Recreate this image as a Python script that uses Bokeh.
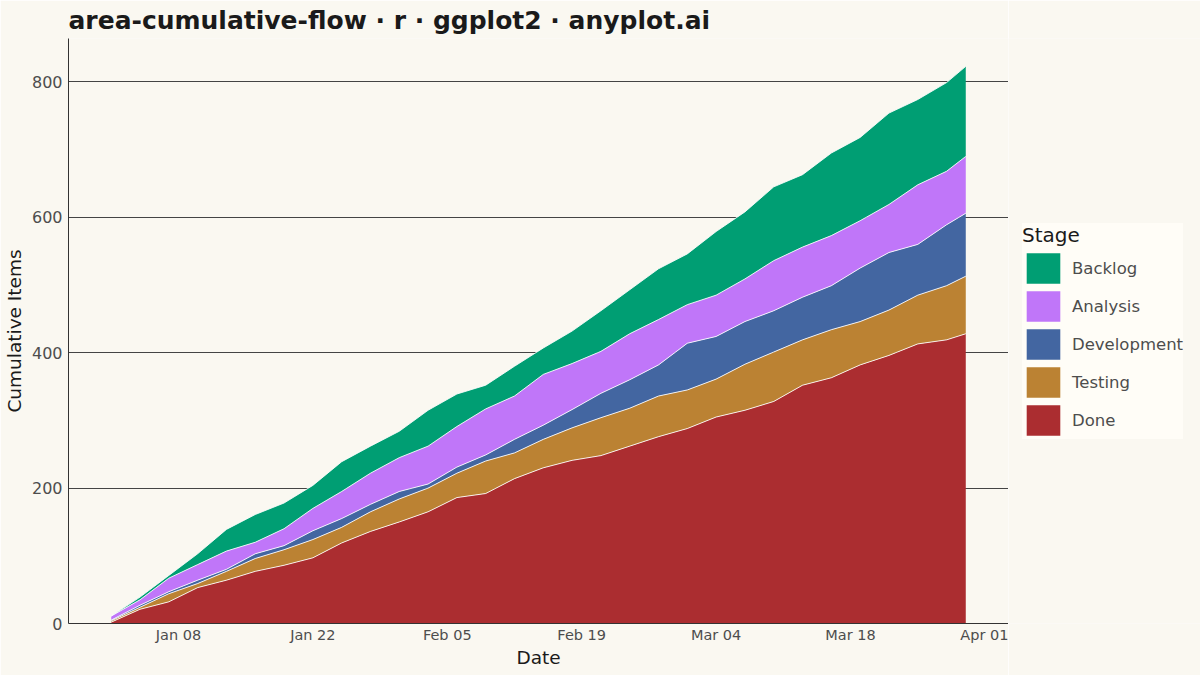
import numpy as np
import pandas as pd
from bokeh.plotting import figure
from bokeh.layouts import row
from bokeh.models import (ColumnDataSource, Range1d, FixedTicker, DatetimeTickFormatter,
                          Legend, LegendItem)
from bokeh.embed import file_html
from bokeh.resources import INLINE

# ---- data ----
dates = ["2024-01-01", "2024-01-04", "2024-01-07", "2024-01-10", "2024-01-13", "2024-01-16",
         "2024-01-19", "2024-01-22", "2024-01-25", "2024-01-28", "2024-01-31", "2024-02-03",
         "2024-02-06", "2024-02-09", "2024-02-12", "2024-02-15", "2024-02-18", "2024-02-21",
         "2024-02-24", "2024-02-27", "2024-03-01", "2024-03-04", "2024-03-07", "2024-03-10",
         "2024-03-13", "2024-03-16", "2024-03-19", "2024-03-22", "2024-03-25", "2024-03-28",
         "2024-03-30"]
done = [2, 21, 32, 53, 64, 77, 86, 97, 119, 136, 150, 165, 186, 192, 214, 230, 241, 248,
        262, 276, 288, 305, 315, 328, 352, 363, 382, 396, 413, 419, 428]
testing = [2, 3, 12, 6, 13, 19, 23, 27, 23, 29, 34, 35, 36, 48, 38, 42, 48, 56, 56, 60,
           57, 56, 68, 73, 67, 71, 64, 67, 72, 80, 85]
development = [1, 3, 3, 5, 3, 7, 6, 13, 13, 11, 11, 6, 9, 9, 20, 21, 27, 36, 42, 46, 69,
               63, 63, 61, 63, 65, 79, 85, 75, 90, 93]
analysis = [6, 8, 20, 23, 27, 17, 25, 33, 40, 46, 50, 56, 60, 68, 64, 75, 68, 62, 68, 67,
            57, 61, 63, 74, 74, 74, 70, 71, 88, 79, 84]
backlog = [0, 4, 4, 16, 32, 41, 38, 34, 44, 40, 39, 53, 48, 35, 44, 39, 48, 60, 65, 75,
           75, 94, 99, 109, 107, 122, 123, 135, 126, 131, 133]

stages = ["Done", "Testing", "Development", "Analysis", "Backlog"]
colors = ["#AB2D30", "#BB8233", "#4366A1", "#C076F9", "#009E73"]
x_ticks = ["2024-01-08", "2024-01-22", "2024-02-05", "2024-02-19", "2024-03-04",
           "2024-03-18", "2024-04-01"]
y_ticks = [0, 200, 400, 600, 800]

BG = "#FAF8F1"
FONT = "DejaVu Sans"

dt = pd.to_datetime(dates)
src = ColumnDataSource(dict(date=dt, Done=done, Testing=testing, Development=development,
                            Analysis=analysis, Backlog=backlog))

pad = (dt[-1] - dt[0]) * 0.05
total = np.array(done) + np.array(testing) + np.array(development) + np.array(analysis) + np.array(backlog)

p = figure(frame_width=940, frame_height=585, x_axis_type="datetime",
           x_range=Range1d(dt[0] - pad, dt[-1] + pad),
           y_range=Range1d(0, float(total.max()) * 1.05),
           output_backend="svg", toolbar_location=None,
           min_border_left=68, min_border_right=0, min_border_top=38, min_border_bottom=52,
           background_fill_color=BG, border_fill_color=BG, outline_line_color=None,
           title="area-cumulative-flow · r · ggplot2 · anyplot.ai")

renderers = p.varea_stack(stackers=stages, x="date", color=colors, source=src)

# white separation lines along each layer top
cum = np.zeros(len(dates))
for s in stages:
    cum = cum + np.array(src.data[s])
    p.line(dt, cum, line_color="white", line_width=1, line_alpha=0.85)

# title
p.title.text_font = FONT
p.title.text_font_size = "25px"
p.title.text_font_style = "bold"
p.title.text_color = "#1A1A1A"
p.title.text_line_height = 1.0
p.title.align = "left"
p.title.standoff = 7

# axes
for ax in (p.xaxis[0], p.yaxis[0]):
    ax.axis_line_color = "#333333"
    ax.axis_line_width = 1
    ax.major_tick_line_color = None
    ax.minor_tick_line_color = None
    ax.major_tick_out = 0
    ax.major_tick_in = 0
    ax.minor_tick_out = 0
    ax.minor_tick_in = 0
    ax.major_label_text_font = FONT
    ax.major_label_text_color = "#4D4D4D"
    ax.axis_label_text_font = FONT
    ax.axis_label_text_font_size = "18.5px"
    ax.axis_label_text_font_style = "normal"
    ax.axis_label_text_color = "#1A1A1A"

p.xaxis.major_label_text_font_size = "14.5px"
p.yaxis.major_label_text_font_size = "16px"
p.xaxis.axis_label = "Date"
p.yaxis.axis_label = "Cumulative Items"
p.xaxis.ticker = FixedTicker(ticks=[pd.Timestamp(t).value // 10**6 for t in x_ticks])
p.xaxis.formatter = DatetimeTickFormatter(days="%b %d", months="%b %d")
p.yaxis.ticker = FixedTicker(ticks=y_ticks)
p.xaxis.major_label_standoff = 3
p.xaxis.axis_label_standoff = 1
p.yaxis.major_label_standoff = 6
p.yaxis.axis_label_standoff = 4

p.xgrid.visible = False
p.ygrid.grid_line_color = "#444444"
p.ygrid.grid_line_width = 1

# ---- legend panel (separate figure to the right) ----
lg = figure(width=192, height=675, x_axis_location=None, y_axis_location=None,
            toolbar_location=None, output_backend="svg", min_border=0,
            background_fill_color=BG, border_fill_color=BG, outline_line_color=None)
lg.grid.visible = False
items = []
for s, c in list(zip(stages, colors))[::-1]:
    r = lg.varea(x=[0], y1=[0], y2=[0], fill_color=c)
    items.append(LegendItem(label=s, renderers=[r]))

legend = Legend(items=items, location=(14, 184), title="Stage")
legend.title_text_font = FONT
legend.title_text_font_size = "20px"
legend.title_text_font_style = "normal"
legend.title_text_color = "#1A1A1A"
legend.title_standoff = 2
legend.label_text_font = FONT
legend.label_text_font_size = "16.5px"
legend.label_text_color = "#4D4D4D"
legend.glyph_width = 42
legend.glyph_height = 38
legend.label_height = 38
legend.spacing = 0
legend.label_standoff = 8
legend.padding = 6
legend.margin = 0
legend.background_fill_color = "#FFFDF7"
legend.background_fill_alpha = 1
legend.border_line_color = None
lg.add_layout(legend)

layout = row(p, lg)
open("out.html", "w").write(file_html(layout, INLINE))
